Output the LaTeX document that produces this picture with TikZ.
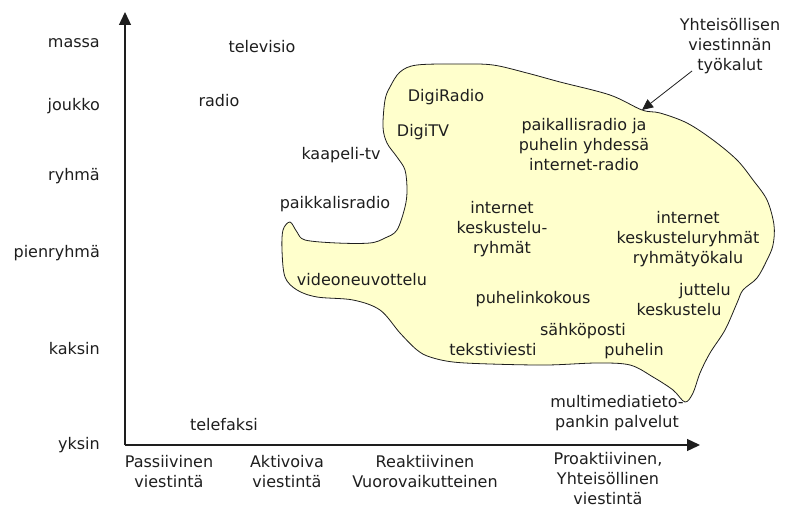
\documentclass[tikz,border=0pt]{standalone}
\usepackage{fontspec}
\setmainfont{DejaVu Sans}
\usetikzlibrary{arrows.meta}
\definecolor{blobfill}{RGB}{255,255,204}
\definecolor{ink}{RGB}{30,30,30}
\begin{document}
\begin{tikzpicture}[x=1pt,y=-1pt,
  lbl/.style={font=\fontsize{16}{20}\selectfont, text=ink, inner sep=0pt, align=center, anchor=base},
  ylbl/.style={lbl, anchor=base east},
  axis/.style={draw=ink, line width=1.3pt, -{Triangle[length=13pt,width=12pt]}},
  pointer/.style={draw=ink, line width=0.8pt, -{Triangle[length=11pt,width=10pt]}},
  blob/.style={draw=ink, line width=0.8pt, fill=blobfill}]
\useasboundingbox (0,0) rectangle (790,508);

% area of the community communication tools
\path[blob] plot[smooth cycle, tension=0.55] coordinates {
  (390,87) (400,72) (417,65) (460,64) (493,65) (527,73) (560,82) (610,95)
  (642,110) (660,113) (687,123) (713,140) (737,160) (753,180) (767,200)
  (774,225) (773,245) (767,260) (757,278) (743,290) (737,303) (725,330)
  (710,353) (700,373) (693,393) (685,402) (673,390) (653,377) (630,365)
  (597,363) (547,365) (490,364) (453,362) (430,357) (417,350) (400,333)
  (380,310) (353,300) (317,297) (297,290) (285,277) (282,250) (283,230)
  (290,222) (297,232) (305,240) (337,243) (370,243) (385,238) (397,230)
  (405,207) (407,190) (405,170) (397,157) (387,143) (383,127) (385,100)};

% axes
\coordinate (origin) at (125,445);
\coordinate (ytip) at (125,12);
\coordinate (xtip) at (700,445);
\draw[axis] (origin) -- (ytip);
\draw[axis] (origin) -- (xtip);

% group size scale
\node[ylbl] (massa) at (100,48) {massa};
\node[ylbl] (joukko) at (100,111) {joukko};
\node[ylbl] (ryhma) at (100,181) {ryhmä};
\node[ylbl] (pienryhma) at (100,257) {pienryhmä};
\node[ylbl] (kaksin) at (100,354) {kaksin};
\node[ylbl] (yksin) at (100,449) {yksin};

% communication type scale (multi-line nodes sit on their last baseline)
\node[lbl] (passiivinen) at (169,487) {Passiivinen\\viestintä};
\node[lbl] (aktivoiva) at (287,487) {Aktivoiva\\viestintä};
\node[lbl] (reaktiivinen) at (425,487) {Reaktiivinen\\Vuorovaikutteinen};
\node[lbl] (proaktiivinen) at (608,504) {Proaktiivinen,\\Yhteisöllinen\\viestintä};

% media outside the area
\node[lbl] (televisio) at (262,53) {televisio};
\node[lbl] (radio) at (219,107) {radio};
\node[lbl] (kaapeli) at (341,160) {kaapeli-tv};
\node[lbl] (paikkalis) at (335,208) {paikkalisradio};
\node[lbl] (telefaksi) at (224,430) {telefaksi};

% media inside the area
\node[lbl] (digiradio) at (446,102) {DigiRadio};
\node[lbl] (digitv) at (423,137) {DigiTV};
\node[lbl] (paikallisradio) at (584,171) {paikallisradio ja\\puhelin yhdessä\\internet-radio};
\node[lbl] (ryhmat) at (502,253) {internet\\keskustelu-\\ryhmät};
\node[lbl] (tyokalu) at (688,263) {internet\\keskusteluryhmät\\ryhmätyökalu};
\node[lbl] (video) at (362,285) {videoneuvottelu};
\node[lbl] (puhelinkokous) at (533,303) {puhelinkokous};
\node[lbl] (juttelu) at (705,295) {juttelu};
\node[lbl] (keskustelu) at (679,315) {keskustelu};
\node[lbl] (sahkoposti) at (583,335) {sähköposti};
\node[lbl] (tekstiviesti) at (493,355) {tekstiviesti};
\node[lbl] (puhelin) at (634,355) {puhelin};
\node[lbl] (multimedia) at (617,427) {multimediatieto-\\pankin palvelut};

% caption of the area with its pointer
\node[lbl] (yhteis) at (730,71) {Yhteisöllisen\\viestinnän\\työkalut};
\coordinate (ptail) at (692,71);
\coordinate (ptip) at (642,110);
\draw[pointer] (ptail) -- (ptip);
\end{tikzpicture}
\end{document}
